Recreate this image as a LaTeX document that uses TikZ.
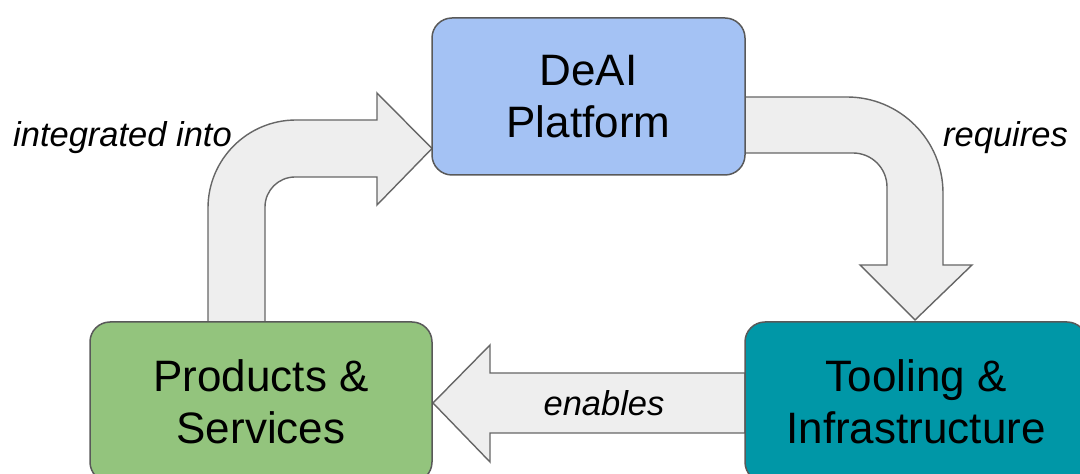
\documentclass[tikz,border=0pt]{standalone}
\usepackage{fontspec}
\setmainfont{Liberation Sans}
\definecolor{boxline}{HTML}{595959}
\definecolor{arrline}{HTML}{666666}
\definecolor{arrfill}{HTML}{EEEEEE}
\definecolor{deai}{HTML}{A4C2F4}
\definecolor{prod}{HTML}{93C47D}
\definecolor{tool}{HTML}{0097A7}
\begin{document}
\begin{tikzpicture}[x=1pt,y=1pt,
  box/.style={draw=boxline, line width=1.5pt, rounded corners=20pt, align=center,
    inner sep=0pt, font=\fontsize{44}{52}\selectfont},
  blockarrow/.style={draw=arrline, fill=arrfill, line width=1.4pt, line join=miter},
  lbl/.style={font=\fontsize{34.5}{40}\selectfont\itshape, inner sep=0pt}]
\useasboundingbox (0,0) rectangle (1080,474);
\clip (0,0) rectangle (1080,474);
% block arrows
\draw[blockarrow] (208,152) -- (208,266) arc[start angle=180, end angle=90, radius=88]
  -- (377,354) -- (377,381) -- (432,325.5) -- (377,269) -- (377,297) -- (295,297)
  arc[start angle=90, end angle=180, radius=30] -- (265,152) -- cycle;
\draw[blockarrow] (745,377) -- (847,377) arc[start angle=90, end angle=0, radius=96]
  -- (943,209) -- (972,209) -- (915,154) -- (860,209) -- (887,209) -- (887,287)
  arc[start angle=0, end angle=90, radius=34] -- (745,321) -- cycle;
\draw[blockarrow] (745,101) -- (490,101) -- (490,129) -- (433,71) -- (490,12)
  -- (490,41) -- (745,41) -- cycle;
% boxes
\node[box, fill=deai, minimum width=313pt, minimum height=157pt] (deai) at (588.5,377.5) {DeAI\\Platform};
\node[box, fill=prod, minimum width=342pt, minimum height=160pt] (prod) at (261,72) {Products \&\\Services};
\node[box, fill=tool, minimum width=342pt, minimum height=160pt] (tool) at (916,72) {Tooling \&\\Infrastructure};
% labels
\node[lbl] (l1) at (122.5,336) {integrated into};
\node[lbl] (l2) at (1005.5,336) {requires};
\node[lbl] (l3) at (604,71) {enables};
\end{tikzpicture}
\end{document}
